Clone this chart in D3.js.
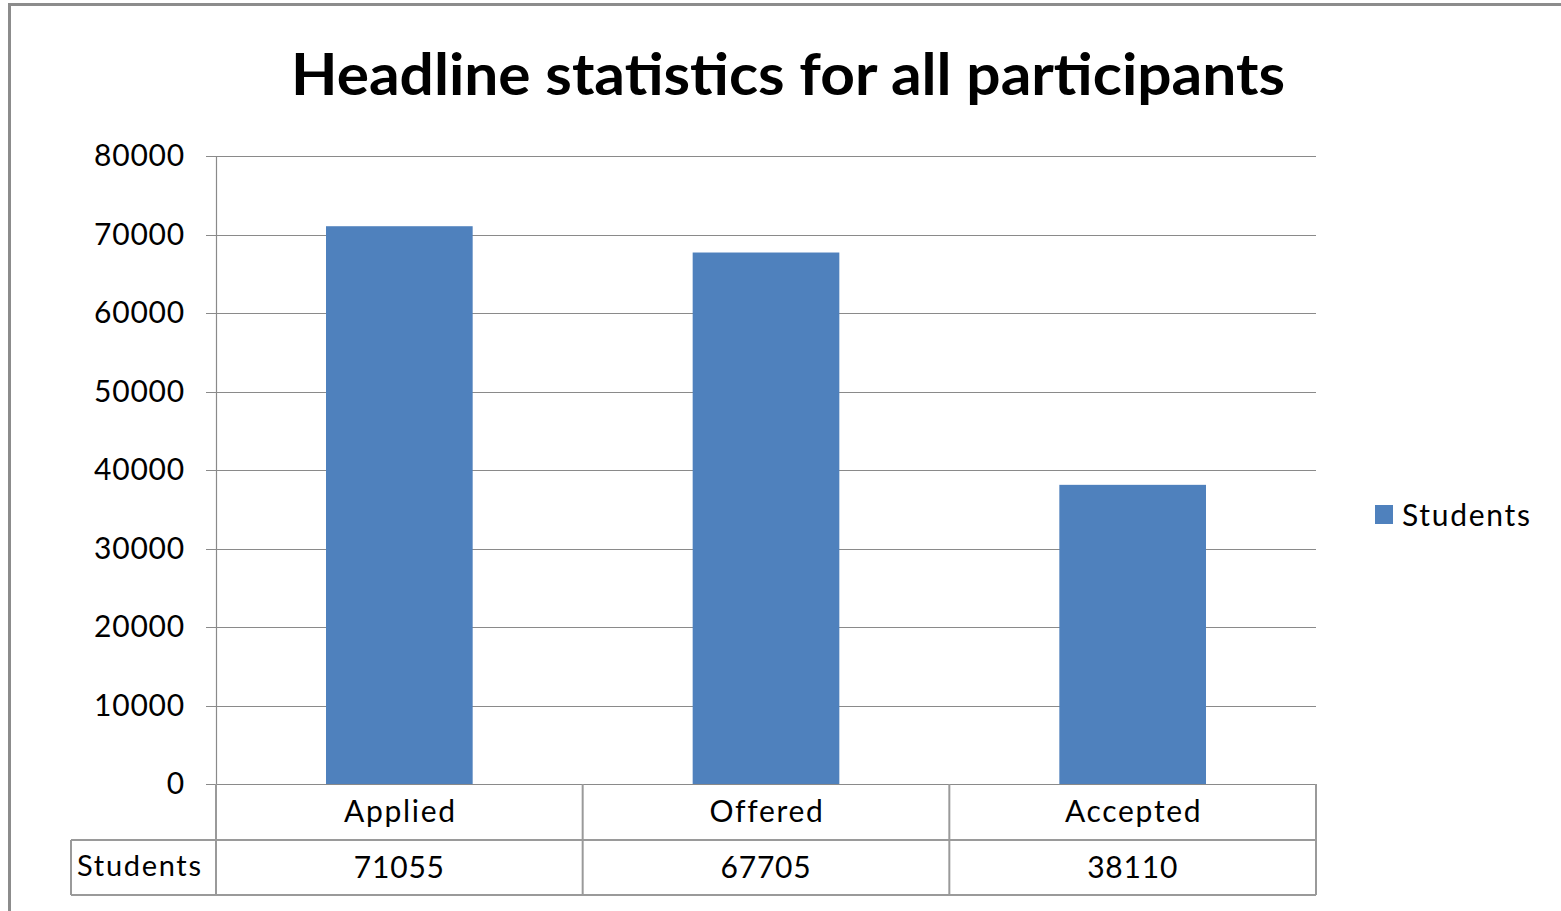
<!DOCTYPE html>
<html>
<head>
<meta charset="UTF-8">
<title>Headline statistics for all participants</title>
<script src="https://d3js.org/d3.v7.min.js"></script>
<style>
body { margin: 0; background: #fff; }
text { font-family: Lato, "Open Sans", sans-serif; fill: #000; }
.word { letter-spacing: 1.7px; }
.num { letter-spacing: 0.8px; }
</style>
</head>
<body>
<div id="vis"></div>
<script>
// chart data
var categories = ["Applied", "Offered", "Accepted"];
var students = [71055, 67705, 38110];
var seriesName = "Students";
var yTicks = [0, 10000, 20000, 30000, 40000, 50000, 60000, 70000, 80000];

var W = 1561, H = 911;
var plot = {left: 216, right: 1316, top: 156, bottom: 784};
var rowH = 56;

var svg = d3.select("#vis").append("svg")
  .attr("width", W)
  .attr("height", H);

// outer chart border
svg.append("rect")
  .attr("x", 9.5).attr("y", 4.5)
  .attr("width", W + 10).attr("height", H + 10)
  .attr("fill", "none")
  .attr("stroke", "#8c8c8c")
  .attr("stroke-width", 3);

var x = d3.scaleBand().domain(categories).range([plot.left, plot.right]).paddingInner(0.6).paddingOuter(0.3);
var band = d3.scaleBand().domain(categories).range([plot.left, plot.right]);
var y = d3.scaleLinear().domain([0, 80000]).range([plot.bottom, plot.top]);

// gridlines + ticks
svg.append("g").selectAll("line")
  .data(yTicks)
  .enter().append("line")
  .attr("x1", plot.left - 10)
  .attr("x2", plot.right)
  .attr("y1", function(d) { return Math.round(y(d)) + 0.5; })
  .attr("y2", function(d) { return Math.round(y(d)) + 0.5; })
  .attr("stroke", "#8a8a8a")
  .attr("stroke-width", 1.2);

svg.append("line")
  .attr("x1", plot.left + 0.5).attr("x2", plot.left + 0.5)
  .attr("y1", plot.top).attr("y2", plot.bottom)
  .attr("stroke", "#8a8a8a")
  .attr("stroke-width", 1.2);

svg.append("g").selectAll("text")
  .data(yTicks)
  .enter().append("text")
  .attr("class", "num")
  .attr("x", 185)
  .attr("y", function(d) { return y(d) + 10; })
  .attr("text-anchor", "end")
  .attr("font-size", 30)
  .attr("fill", "#1a1a1a")
  .text(function(d) { return d; });

// bars
svg.append("g").selectAll("rect")
  .data(students)
  .enter().append("rect")
  .attr("x", function(d, i) { return x(categories[i]); })
  .attr("y", function(d) { return y(d); })
  .attr("width", x.bandwidth())
  .attr("height", function(d) { return y(0) - y(d); })
  .attr("fill", "#4f81bd");

// data table
var tbl = svg.append("g");
var grey = "#9a9a9a";
var t1 = plot.bottom, t2 = plot.bottom + rowH, t3 = plot.bottom + 2 * rowH - 1;
tbl.append("path")
  .attr("d",
    "M" + plot.left + "," + t1 + "V" + t3 +
    "M" + plot.right + "," + t1 + "V" + t3 +
    "M71," + t2 + "H" + plot.right +
    "M71," + t3 + "H" + plot.right +
    "M71," + t2 + "V" + t3)
  .attr("fill", "none")
  .attr("stroke", grey)
  .attr("stroke-width", 2);
tbl.selectAll(".sep")
  .data(categories.slice(1))
  .enter().append("line")
  .attr("class", "sep")
  .attr("x1", function(d) { return band(d); })
  .attr("x2", function(d) { return band(d); })
  .attr("y1", t1).attr("y2", t3)
  .attr("stroke", grey)
  .attr("stroke-width", 2);

tbl.selectAll(".cat")
  .data(categories)
  .enter().append("text")
  .attr("class", "word")
  .attr("x", function(d) { return band(d) + band.bandwidth() / 2 + 1; })
  .attr("y", t1 + 38)
  .attr("text-anchor", "middle")
  .attr("font-size", 30)
  .attr("fill", "#1a1a1a")
  .text(function(d) { return d; });

tbl.selectAll(".val")
  .data(students)
  .enter().append("text")
  .attr("class", "num")
  .attr("x", function(d, i) { return band(categories[i]) + band.bandwidth() / 2; })
  .attr("y", t2 + 38)
  .attr("text-anchor", "middle")
  .attr("font-size", 30)
  .attr("fill", "#1a1a1a")
  .text(function(d) { return d; });

tbl.append("text")
  .attr("class", "word")
  .attr("x", 77)
  .attr("y", t2 + 36)
  .attr("font-size", 29)
  .attr("fill", "#1a1a1a")
  .text(seriesName);

// legend
svg.append("rect")
  .attr("x", 1375).attr("y", 505)
  .attr("width", 18).attr("height", 19)
  .attr("fill", "#4f81bd");
svg.append("text")
  .attr("class", "word")
  .attr("x", 1402).attr("y", 526)
  .attr("font-size", 30)
  .attr("fill", "#1a1a1a")
  .text(seriesName);

// title
svg.append("text")
  .attr("x", 788).attr("y", 95)
  .attr("text-anchor", "middle")
  .attr("font-size", 58)
  .attr("font-weight", "bold")
  .attr("textLength", 994)
  .attr("lengthAdjust", "spacingAndGlyphs")
  .text("Headline statistics for all participants");
</script>
</body>
</html>
